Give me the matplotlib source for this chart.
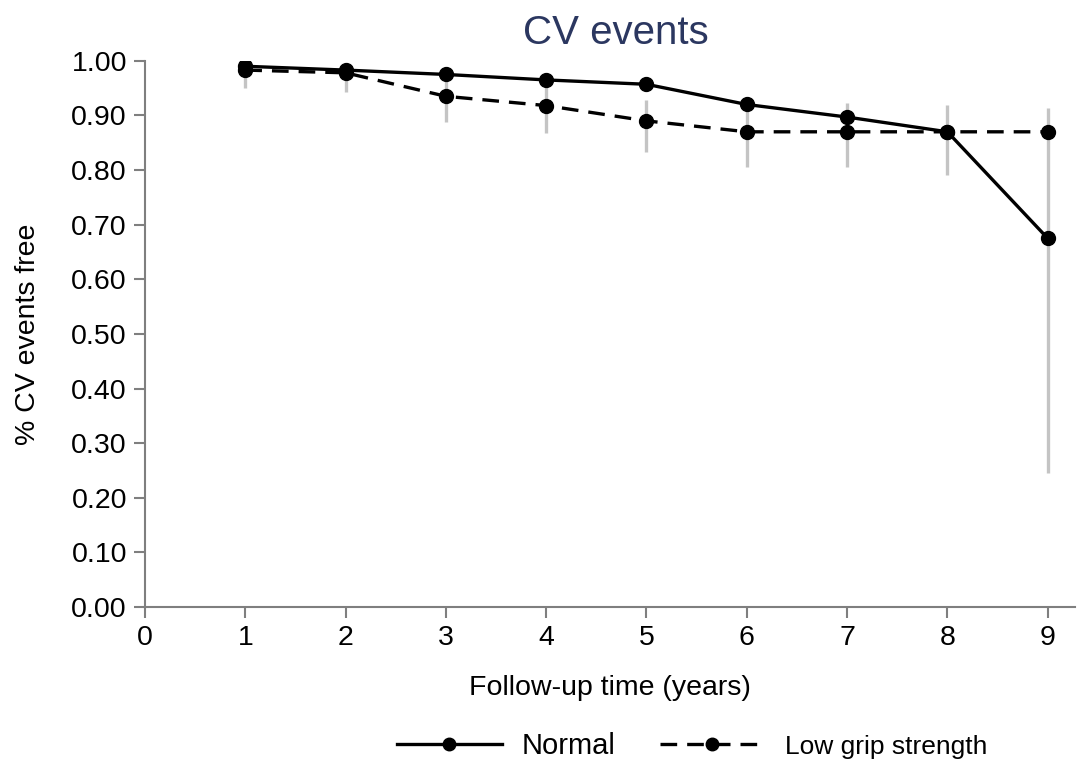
import numpy as np
import matplotlib
matplotlib.use("Agg")
import matplotlib.pyplot as plt

plt.rcParams['font.family'] = ['Liberation Sans', 'DejaVu Sans']

######## Data
years = [1, 2, 3, 4, 5, 6, 7, 8, 9]
normal = [0.990, 0.983, 0.975, 0.965, 0.957, 0.920, 0.897, 0.870, 0.675]
low_grip = [0.983, 0.978, 0.935, 0.918, 0.890, 0.870, 0.870, 0.870, 0.870]
# grey bars (one per year, spanning both groups)
ci_low = [0.950, 0.943, 0.888, 0.868, 0.833, 0.806, 0.806, 0.791, 0.245]
ci_high = [0.995, 0.988, 0.975, 0.965, 0.929, 0.925, 0.923, 0.919, 0.914]

xticks = list(range(0, 10))
yticks = [i / 10 for i in range(0, 11)]

spine_col = '#7f7f7f'

fig = plt.figure(figsize=(10.78, 7.6), dpi=100)
ax = fig.add_axes([0.1345, 0.2013, 0.8625, 0.7187])

ax.vlines(years, ci_low, ci_high, color='#c4c4c4', lw=2.4, zorder=1)

l1, = ax.plot(years, normal, '-', color='black', lw=2.4, marker='o', ms=10, zorder=3)
l2, = ax.plot(years, low_grip, '--', color='black', lw=2.4, marker='o', ms=10,
              dashes=(5, 3), zorder=2)

ax.set_xlim(0, 9.27)
ax.set_ylim(0, 1.0)
ax.set_xticks(xticks)
ax.set_yticks(yticks)
ax.set_yticklabels(['%.2f' % v for v in yticks])

for side in ['top', 'right']:
    ax.spines[side].set_visible(False)
for side in ['left', 'bottom']:
    ax.spines[side].set_color(spine_col)
    ax.spines[side].set_linewidth(1.5)
ax.spines['left'].set_bounds(0, 1.0)
ax.tick_params(direction='out', color=spine_col, width=1.5, length=8,
               labelsize=20.5, pad=5)

ax.set_xlabel('Follow-up time (years)', fontsize=20.5, labelpad=17)
ax.set_ylabel('% CV events free', fontsize=20.5, labelpad=22)
fig.text(0.571, 0.956, 'CV events', ha='center', va='center',
         fontsize=29, color='#2b3760')

leg = fig.legend([l1, l2], ['Normal', 'Low grip strength'], ncol=2,
                 loc='center', bbox_to_anchor=(0.642, 0.018), frameon=False,
                 handlelength=3.6, columnspacing=1.5, handletextpad=0.7,
                 fontsize=21)
for h in leg.legend_handles:
    h.set_markersize(9)
leg.get_texts()[1].set_fontsize(19)

fig.savefig('out.png', dpi=100)
